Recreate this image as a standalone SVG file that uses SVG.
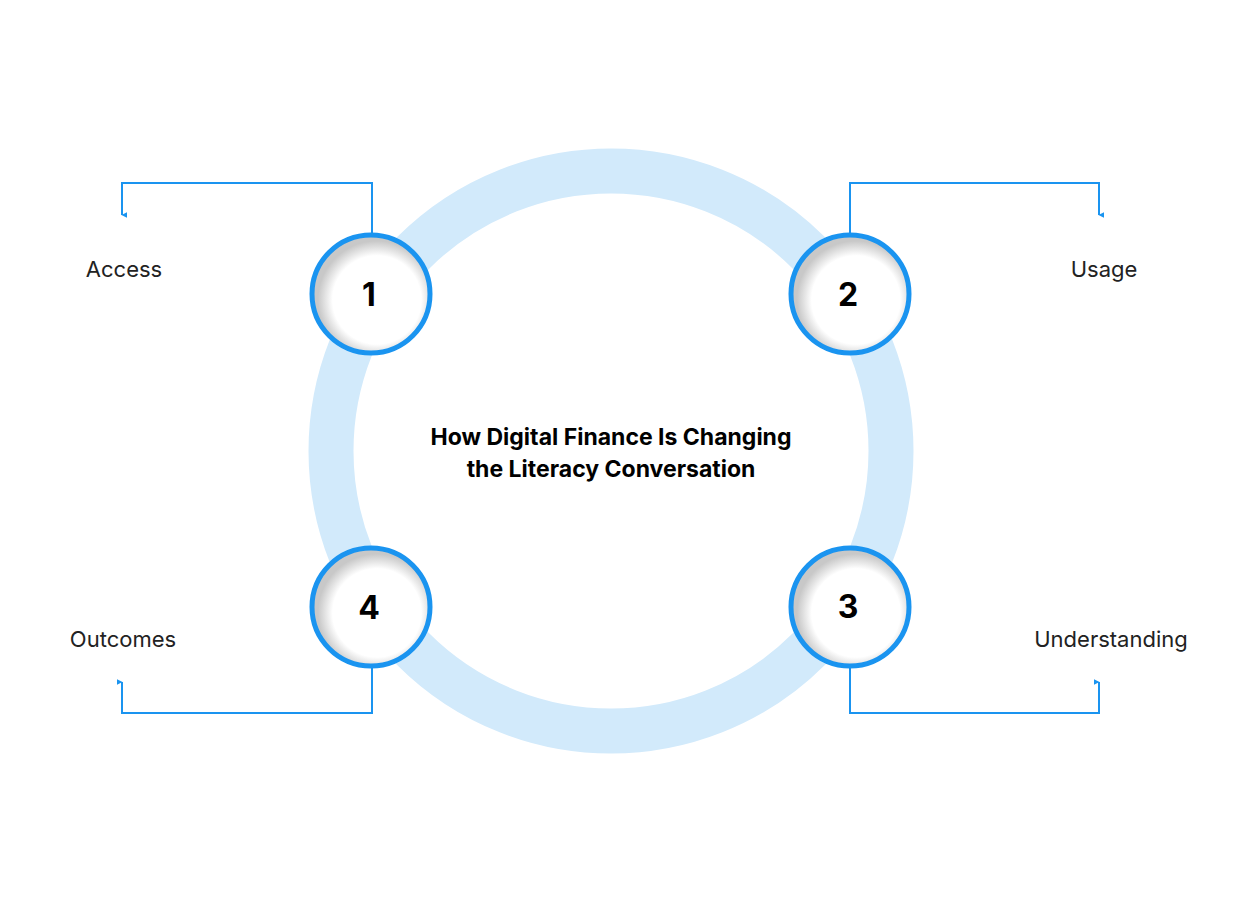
<svg xmlns="http://www.w3.org/2000/svg" width="1260" height="904" viewBox="0 0 1260 904">
<style>
.lbl{font-family:Inter,"Liberation Sans",sans-serif;font-size:22px;fill:#222}
.num{font-family:Inter,"Liberation Sans",sans-serif;font-size:32px;font-weight:700;fill:#000;text-anchor:middle}
.title{font-family:Inter,"Liberation Sans",sans-serif;font-size:23px;font-weight:700;fill:#000;text-anchor:middle}
.c{fill:none;stroke:#1a94f0;stroke-width:2;marker-end:url(#a)}
.node{fill:url(#g);stroke:#1a94f0;stroke-width:5}
</style>
<defs>
<marker id="a" viewBox="0 0 10 10" refX="5" refY="9" markerWidth="6" markerHeight="6" orient="auto-start-reverse" markerUnits="userSpaceOnUse"><path d="M0,0 L10,0 L5,10 Z" fill="#1a94f0"/></marker>
<radialGradient id="g" cx="0.55" cy="0.55" r="0.5"><stop offset="0.75" stop-color="#fff"/><stop offset="1" stop-color="#c8c8c8"/></radialGradient>
</defs>
<rect width="1260" height="904" fill="#fff"/>
<circle cx="611" cy="451" r="280" fill="none" stroke="#d2eafb" stroke-width="45"/>
<g id="connectors">
<path class="c" d="M372,234 V183 H122 V215"/>
<path class="c" d="M850,234 V183 H1099 V215"/>
<path class="c" d="M850,667 V713 H1099 V682"/>
<path class="c" d="M372,667 V713 H122 V682"/>
</g>
<g id="n1"><circle class="node" cx="371" cy="294" r="59"/><text class="num" x="369" y="306">1</text></g>
<g id="n2"><circle class="node" cx="850" cy="294" r="59"/><text class="num" x="848" y="306">2</text></g>
<g id="n3"><circle class="node" cx="850" cy="607" r="59"/><text class="num" x="848" y="618">3</text></g>
<g id="n4"><circle class="node" cx="371" cy="607" r="59"/><text class="num" x="369" y="619">4</text></g>
<g id="title"><text class="title" x="611" y="445">How Digital Finance Is Changing</text><text class="title" x="611" y="477">the Literacy Conversation</text></g>
<g id="l1"><text class="lbl" x="124" y="277" text-anchor="middle">Access</text></g>
<g id="l2"><text class="lbl" x="1104" y="277" text-anchor="middle">Usage</text></g>
<g id="l3"><text class="lbl" x="1111" y="647" text-anchor="middle">Understanding</text></g>
<g id="l4"><text class="lbl" x="123" y="647" text-anchor="middle">Outcomes</text></g>
</svg>
